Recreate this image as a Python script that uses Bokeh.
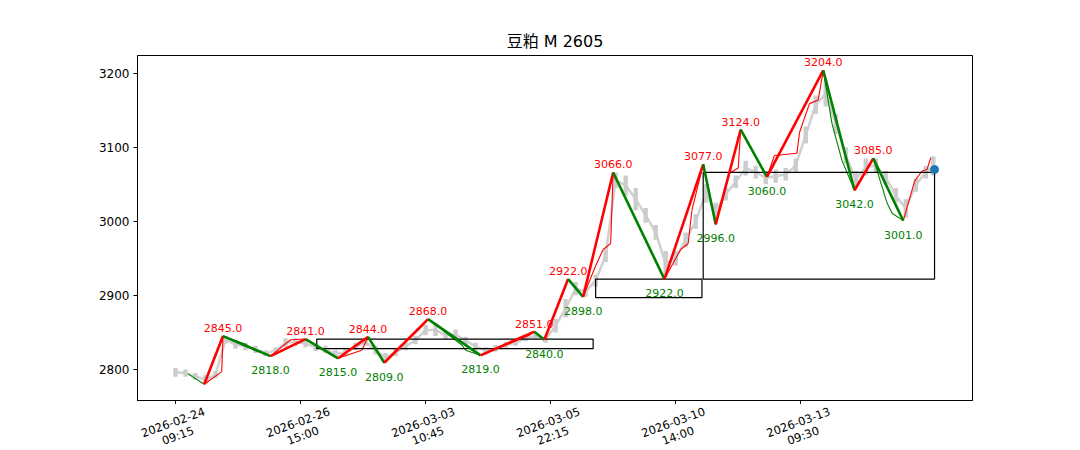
from bokeh.plotting import figure
from bokeh.layouts import column
from bokeh.models import Range1d, FixedTicker
from bokeh.embed import file_html
from bokeh.resources import INLINE
from bokeh.core.properties import value

title_text = "豆粕 M 2605"
tick_idx = [0, 100, 200, 300, 400, 500]
tick_labels = ["2026-02-24\n09:15", "2026-02-26\n15:00", "2026-03-03\n10:45",
               "2026-03-05\n22:15", "2026-03-10\n14:00", "2026-03-13\n09:30"]
y_ticks = [2800, 2900, 3000, 3100, 3200]

# gray price bars (sampled bar index, high, low)
gray_x = list(range(0, 601, 8)) + [606]
gray_hi = [2802, 2800, 2795, 2792, 2798, 2845, 2840, 2836, 2832, 2826,
           2830, 2842, 2842, 2840, 2835, 2832, 2826, 2828, 2836, 2842,
           2832, 2822, 2828, 2836, 2845, 2860, 2862, 2852, 2854, 2844,
           2836, 2830, 2833, 2837, 2840, 2846, 2850, 2846, 2868, 2895,
           2918, 2912, 2928, 2962, 3066, 3062, 3045, 3018, 2995, 2960,
           2960, 2985, 3010, 3050, 3025, 3045, 3062, 3082, 3075, 3068,
           3070, 3072, 3085, 3128, 3170, 3190, 3145, 3100, 3068, 3085,
           3085, 3068, 3045, 3030, 3058, 3075, 3088]
gray_lo = [2790, 2790, 2786, 2780, 2788, 2835, 2828, 2826, 2822, 2818,
           2820, 2830, 2832, 2830, 2825, 2822, 2816, 2818, 2826, 2832,
           2820, 2810, 2818, 2826, 2834, 2846, 2845, 2840, 2840, 2834,
           2826, 2820, 2824, 2828, 2832, 2838, 2840, 2836, 2850, 2870,
           2900, 2898, 2912, 2945, 3045, 3035, 3015, 2998, 2975, 2925,
           2940, 2965, 2990, 3025, 3000, 3028, 3045, 3062, 3058, 3050,
           3052, 3055, 3066, 3105, 3145, 3155, 3118, 3078, 3045, 3062,
           3066, 3050, 3025, 3005, 3040, 3058, 3062]

# thin strokes
bi_idx = [10, 23, 37, 38, 56, 63, 76, 92, 104, 130,
          149, 154, 167, 197, 202, 229, 232, 244, 283, 287,
          295, 314, 326, 336, 342, 348, 350, 391, 404, 410,
          413, 422, 432, 443, 450, 452, 473, 479, 497, 499,
          507, 514, 518, 525, 533, 543, 558, 569, 573, 582,
          591, 597, 601, 604]
bi_val = [2794, 2780, 2797, 2845, 2834, 2826, 2818, 2840, 2841, 2815,
          2826, 2844, 2809, 2858, 2868, 2833, 2826, 2819, 2846, 2851,
          2840, 2922, 2898, 2940, 2962, 2970, 3066, 2922, 2962, 2970,
          3015, 3077, 2996, 3065, 3072, 3124, 3060, 3089, 3092, 3120,
          3159, 3164, 3204, 3132, 3082, 3042, 3085, 3025, 3011, 3001,
          3054, 3068, 3070, 3086]

# thick segments (pivots)
seg_idx = [23, 38, 76, 104, 130, 154, 167, 202, 244, 287, 295, 314,
           326, 350, 391, 422, 432, 452, 473, 518, 543, 558, 582]
seg_val = [2780, 2845, 2818, 2841, 2815, 2844, 2809, 2868, 2819, 2851, 2840, 2922,
           2898, 3066, 2922, 3077, 2996, 3124, 3060, 3204, 3042, 3085, 3001]

# pivot zones
zs_start = [113, 336, 422]
zs_end = [334, 421, 607]
zs_low = [2828, 2897, 2922]
zs_high = [2841, 2922, 3066]

last_idx = 607
last_price = 3070

FONT = "DejaVu Sans"

p = figure(frame_width=835, frame_height=345, x_range=Range1d(-30.35, 637.35),
           y_range=Range1d(2758, 3224), output_backend="svg", toolbar_location=None,
           min_border_left=137, min_border_right=100, min_border_top=55, min_border_bottom=4)
p.title.text = title_text
p.title.align = "center"
p.title.text_font = "DejaVu Sans, Noto Sans CJK SC"
p.title.text_font_size = "16px"
p.title.text_font_style = "normal"
p.title.text_color = "black"

p.grid.visible = False
p.outline_line_color = "black"
p.outline_line_alpha = 1
p.outline_line_width = 1
p.background_fill_color = "white"
p.border_fill_color = "white"

p.xaxis.ticker = FixedTicker(ticks=tick_idx)
p.xaxis.major_label_overrides = {t: "" for t in tick_idx}
p.xaxis.major_label_text_font_size = "0px"
p.xaxis.major_label_standoff = 0
p.yaxis.ticker = FixedTicker(ticks=y_ticks)
for ax in (p.xaxis, p.yaxis):
    ax.axis_line_color = "black"
    ax.major_tick_line_color = "black"
    ax.minor_tick_line_color = None
    ax.major_tick_in = 0
    ax.major_tick_out = 4
    ax.major_label_text_color = "black"
p.yaxis.major_label_text_font = FONT
p.yaxis.major_label_text_font_size = "12px"
p.yaxis.major_label_standoff = 4

# gray bars
gray_mid = [(h + l) / 2 for h, l in zip(gray_hi, gray_lo)]
p.line(x=gray_x, y=gray_mid, line_color="#d0d0d0", line_width=2.5)
p.vbar(x=gray_x, width=3.5, top=gray_hi, bottom=gray_lo, fill_color="#cccccc", line_color=None)

# thin strokes
bx0, by0, bx1, by1, bcol = [], [], [], [], []
for k in range(len(bi_idx) - 1):
    bx0.append(bi_idx[k]); by0.append(bi_val[k])
    bx1.append(bi_idx[k + 1]); by1.append(bi_val[k + 1])
    bcol.append("red" if bi_val[k + 1] > bi_val[k] else "green")
p.segment(x0=bx0, y0=by0, x1=bx1, y1=by1, line_color=bcol, line_width=1.1)

# pivot zones
p.quad(left=zs_start, right=zs_end, bottom=zs_low, top=zs_high,
       fill_color=None, line_color="black", line_width=1.2)

# thick segments
sx0, sy0, sx1, sy1, scol = [], [], [], [], []
for k in range(len(seg_idx) - 1):
    sx0.append(seg_idx[k]); sy0.append(seg_val[k])
    sx1.append(seg_idx[k + 1]); sy1.append(seg_val[k + 1])
    scol.append("red" if seg_val[k + 1] > seg_val[k] else "green")
p.segment(x0=sx0, y0=sy0, x1=sx1, y1=sy1, line_color=scol, line_width=2.6)

# pivot labels
hi_x, hi_y, lo_x, lo_y = [], [], [], []
for k in range(1, len(seg_idx)):
    if seg_val[k] > seg_val[k - 1]:
        hi_x.append(seg_idx[k]); hi_y.append(seg_val[k])
    else:
        lo_x.append(seg_idx[k]); lo_y.append(seg_val[k])
p.text(x=hi_x, y=hi_y, text=[f"{v:.1f}" for v in hi_y], text_color="red",
       text_font=value(FONT), text_font_size="11px", text_align="center",
       text_baseline="bottom", y_offset=-4)
p.text(x=lo_x, y=lo_y, text=[f"{v:.1f}" for v in lo_y], text_color="green",
       text_font=value(FONT), text_font_size="11px", text_align="center",
       text_baseline="top", y_offset=10)

p.scatter(x=[last_idx], y=[last_price], size=8, color="#1f77b4")

# x tick labels strip (rotated two-line labels below the axis)
q = figure(frame_width=835, frame_height=45, x_range=p.x_range, y_range=Range1d(0, 1),
           output_backend="svg", toolbar_location=None,
           min_border_left=137, min_border_right=100, min_border_top=0, min_border_bottom=0)
q.axis.visible = False
q.grid.visible = False
q.outline_line_color = None
q.background_fill_color = "white"
q.border_fill_color = "white"
q.text(x=tick_idx, y=[0.5] * len(tick_idx), text=tick_labels, angle=20, angle_units="deg",
       text_align="center", text_baseline="middle", text_font=value(FONT),
       text_font_size="11.5px", text_line_height=1.0, text_color="black", y_offset=2)

layout = column(p, q, spacing=0)
open("out.html", "w").write(file_html(layout, INLINE))
